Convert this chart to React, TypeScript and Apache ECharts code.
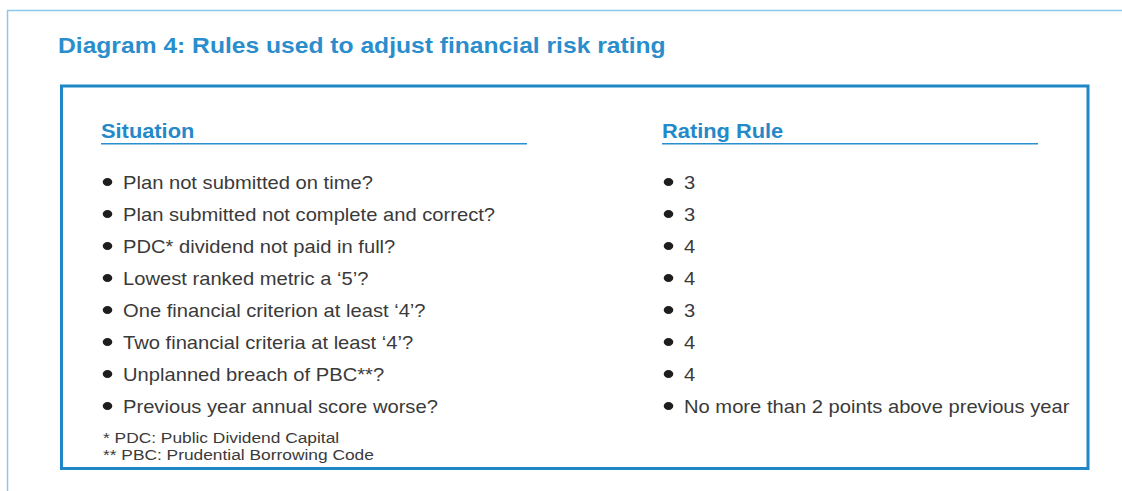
import React, { useEffect, useRef } from "react";
import * as echarts from "echarts";

const title = "Diagram 4: Rules used to adjust financial risk rating";
const headers = ["Situation", "Rating Rule"];
const situations = [
  "Plan not submitted on time?",
  "Plan submitted not complete and correct?",
  "PDC* dividend not paid in full?",
  "Lowest ranked metric a \u20185\u2019?",
  "One financial criterion at least \u20184\u2019?",
  "Two financial criteria at least \u20184\u2019?",
  "Unplanned breach of PBC**?",
  "Previous year annual score worse?",
];
const ratingRules = ["3", "3", "4", "4", "3", "4", "4", "No more than 2 points above previous year"];
const footnotes = ["* PDC: Public Dividend Capital", "** PBC: Prudential Borrowing Code"];

const FONT = "'Liberation Sans', Arial, Helvetica, sans-serif";
const BLUE = "#2489c9";
const TEXT = "#3a3a3a";
const SX = 1.12;

export default function App() {
  const ref = useRef<HTMLDivElement>(null);
  useEffect(() => {
    document.body.style.margin = "0";
    const chart = echarts.init(ref.current!, null, { renderer: "svg" });
    const els: any[] = [];
    // outer light frame
    els.push({
      type: "rect",
      shape: { x: 7.5, y: 10.5, width: 1300, height: 700 },
      style: { fill: "#fff", stroke: "#8cc7ec", lineWidth: 1.5 },
    });
    // title
    els.push({
      type: "text",
      x: 58,
      y: 45.5,
      scaleX: SX,
      style: {
        text: title,
        fill: "#2a8dcc",
        font: `bold 22px ${FONT}`,
        textAlign: "left",
        textVerticalAlign: "middle",
      },
    });
    // inner box
    els.push({
      type: "rect",
      shape: { x: 61.5, y: 86, width: 1026.5, height: 382.5 },
      style: { fill: "#fff", stroke: "#1f86c7", lineWidth: 3 },
    });
    const cols = [
      { hx: 101, lineEnd: 527, bx: 107.5, tx: 123, items: situations },
      { hx: 662, lineEnd: 1038, bx: 668.5, tx: 684, items: ratingRules },
    ];
    cols.forEach((c, ci) => {
      els.push({
        type: "text",
        x: c.hx,
        y: 131,
        scaleX: SX,
        style: {
          text: headers[ci],
          fill: BLUE,
          font: `bold 19.5px ${FONT}`,
          textAlign: "left",
          textVerticalAlign: "middle",
        },
      });
      els.push({
        type: "line",
        shape: { x1: c.hx, y1: 143.8, x2: c.lineEnd, y2: 143.8 },
        style: { stroke: "#2a8fd0", lineWidth: 1.5 },
      });
      c.items.forEach((t, i) => {
        const y = 183 + 32 * i;
        els.push({
          type: "ellipse",
          shape: { cx: c.bx, cy: y - 1, rx: 4.8, ry: 4 },
          style: { fill: "#1e1e1e" },
        });
        els.push({
          type: "text",
          x: c.tx,
          y,
          scaleX: SX,
          style: {
            text: t,
            fill: TEXT,
            font: `18px ${FONT}`,
            textAlign: "left",
            textVerticalAlign: "middle",
          },
        });
      });
    });
    footnotes.forEach((t, i) => {
      els.push({
        type: "text",
        x: 103,
        y: 437.5 + 16.5 * i,
        scaleX: SX,
        style: {
          text: t,
          fill: TEXT,
          font: `15.5px ${FONT}`,
          textAlign: "left",
          textVerticalAlign: "middle",
        },
      });
    });
    chart.setOption({ animation: false, graphic: { elements: els } });
    return () => chart.dispose();
  }, []);
  return <div ref={ref} style={{ width: 1122, height: 491 }} />;
}
